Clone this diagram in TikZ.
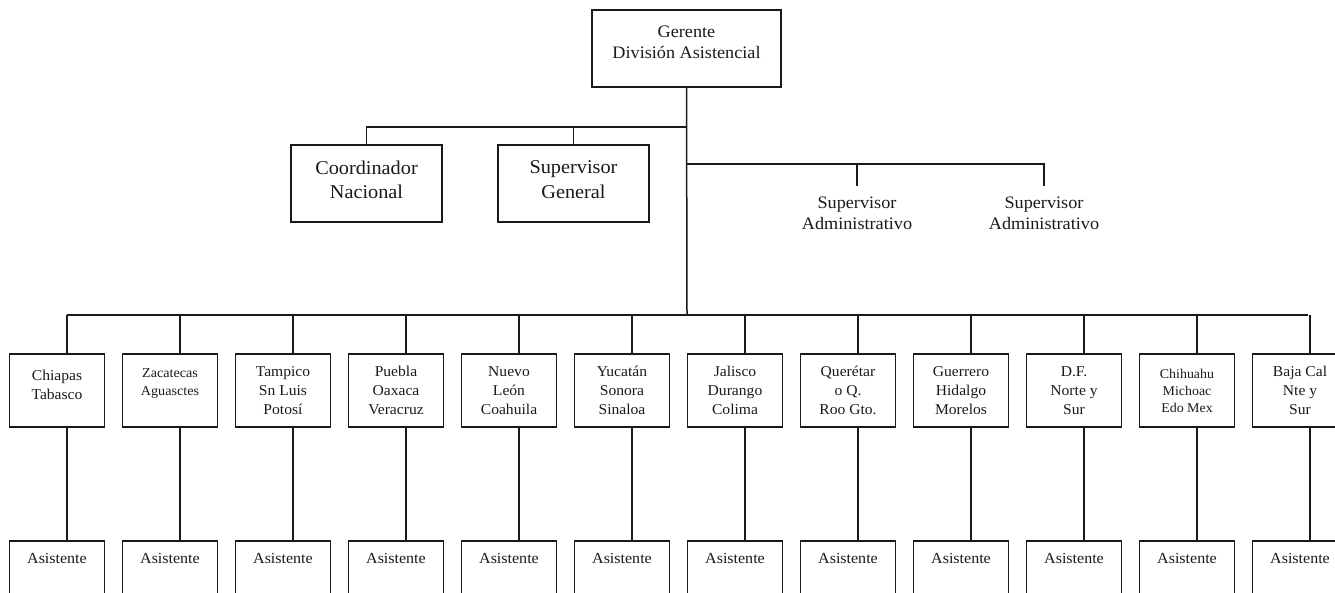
\documentclass[tikz,border=0pt]{standalone}
\usepackage{fontspec}
\setmainfont{Liberation Serif}[FakeStretch=1.04]
\definecolor{ink}{HTML}{1A1A1A}
\begin{document}
\begin{tikzpicture}[x=1pt,y=-1pt,
  box/.style={draw=ink, line width=1.6pt, inner sep=0pt, align=center, text=ink},
  conn/.style={draw=ink, line width=1.5pt},
  topbox/.style={box, minimum width=151pt, minimum height=77pt, font=\fontsize{19.5}{24.5}\selectfont, text depth=8pt},
  regbox/.style={box, minimum width=95pt, minimum height=73pt, font=\fontsize{15}{19}\selectfont},
  smallreg/.style={font=\fontsize{13.6}{18}\selectfont},
  tinyreg/.style={font=\fontsize{13.4}{17}\selectfont},
  twoline/.style={text depth=12pt},
  asbox/.style={draw=ink, line width=1.6pt, minimum width=95pt, minimum height=80pt, anchor=north, inner sep=0pt},
  astext/.style={font=\fontsize{15.4}{17}\selectfont, text=ink, inner sep=0pt},
  satext/.style={align=center, text=ink, font=\fontsize{17.5}{21}\selectfont, inner xsep=0pt, inner ysep=11pt}
]
\useasboundingbox (0,0) rectangle (1335,593);
\clip (0,0) rectangle (1335,593);
\fill[white] (0,0) rectangle (1335,593);

% top level
\node[box, minimum width=189pt, minimum height=77pt, font=\fontsize{17.5}{21}\selectfont, text depth=12pt] (ger) at (686.5,48.5) {Gerente\\División Asistencial};

\node[topbox] (coord) at (366.5,183.5) {Coordinador\\Nacional};
\node[topbox] (sg) at (573.5,183.5) {Supervisor\\General};

\node[satext] (sa1) at (857,213.5) {Supervisor\\Administrativo};
\node[satext] (sa2) at (1044,213.5) {Supervisor\\Administrativo};

\coordinate (j1) at (687,127);
\coordinate (j2) at (687,164);
\coordinate (j3) at (687,315);

\draw[conn] (ger.south) -- (j3);
\draw[conn] (coord.north) |- (j1);
\draw[conn] (sg.north) -- (sg.north |- j1);
\draw[conn] (j2) -| (sa2.north);
\draw[conn] (sa1.north |- j2) -- (sa1.north);

% regions
\node[regbox, twoline] (r0) at (57,390.5) {Chiapas\\Tabasco};
\node[regbox, smallreg, text depth=16pt] (r1) at (170,390.5) {Zacatecas\\Aguasctes};
\node[regbox] (r2) at (283,390.5) {Tampico\\Sn Luis\\Potosí};
\node[regbox] (r3) at (396,390.5) {Puebla\\Oaxaca\\Veracruz};
\node[regbox] (r4) at (509,390.5) {Nuevo\\León\\Coahuila};
\node[regbox] (r5) at (622,390.5) {Yucatán\\Sonora\\Sinaloa};
\node[regbox] (r6) at (735,390.5) {Jalisco\\Durango\\Colima};
\node[regbox] (r7) at (848,390.5) {Querétar\\o Q.\\Roo Gto.};
\node[regbox] (r8) at (961,390.5) {Guerrero\\Hidalgo\\Morelos};
\node[regbox] (r9) at (1074,390.5) {D.F.\\Norte y\\Sur};
\node[regbox, tinyreg] (r10) at (1187,390.5) {Chihuahu\\Michoac\\Edo Mex};
\node[regbox] (r11) at (1300,390.5) {Baja Cal\\Nte y\\Sur};

\foreach \i/\x in {0/57,1/170,2/283,3/396,4/509,5/622,6/735,7/848,8/961,9/1074,10/1187,11/1300}{
  \node[asbox] (a\i) at (\x,540) {};
  \node[astext] (at\i) at ([yshift=-18pt]a\i.north) {Asistente};
  \draw[conn] ([xshift=10pt]r\i.north) -- ([xshift=10pt]r\i.north |- j3);
  \draw[conn] ([xshift=10pt]r\i.south) -- ([xshift=10pt]a\i.north);
}
\draw[conn] ([xshift=10pt]r0.north |- j3) -- ([xshift=8pt]r11.north |- j3);
\end{tikzpicture}
\end{document}
